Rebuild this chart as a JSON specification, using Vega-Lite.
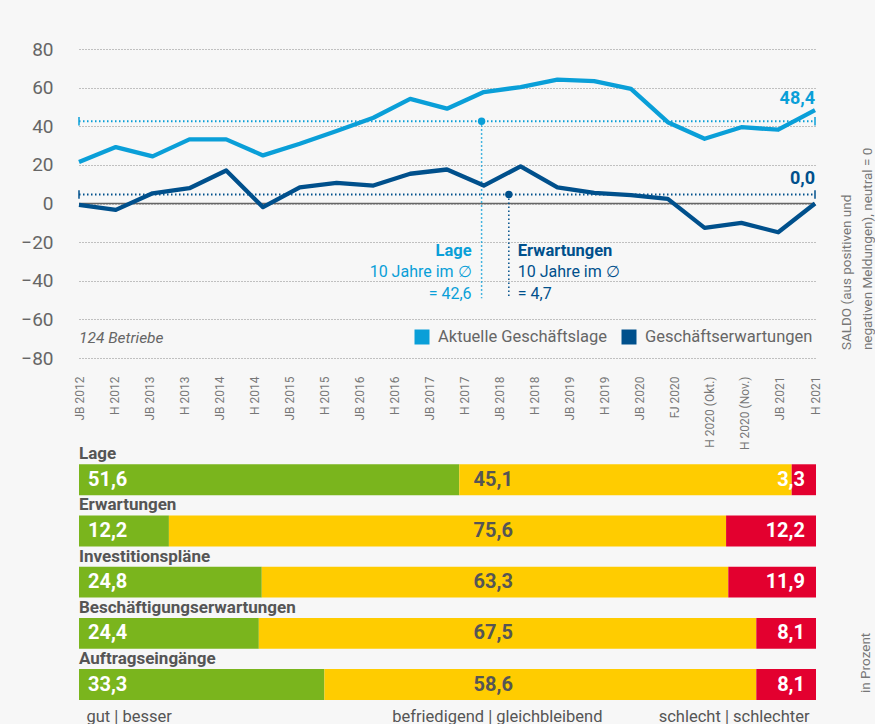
{
  "$schema": "https://vega.github.io/schema/vega-lite/v6.json",
  "background": "#f7f7f7",
  "padding": {"left": 20, "top": 40, "right": 0, "bottom": 0},
  "config": {
    "view": {"stroke": null},
    "font": "Roboto",
    "axis": {"labelOverlap": false, "labelLimit": 400},
    "locale": {"number": {"decimal": ",", "thousands": ".", "grouping": [3], "currency": ["", " €"]}}
  },
  "bounds": "flush",
  "spacing": 86,
  "resolve": {"scale": {"color": "independent", "x": "independent", "y": "independent"}, "legend": {"color": "independent"}},
  "datasets": {
    "lines": [
      {"i": 0, "series": "Aktuelle Geschäftslage", "value": 21.5},
      {"i": 1, "series": "Aktuelle Geschäftslage", "value": 29.2},
      {"i": 2, "series": "Aktuelle Geschäftslage", "value": 24.4},
      {"i": 3, "series": "Aktuelle Geschäftslage", "value": 33.2},
      {"i": 4, "series": "Aktuelle Geschäftslage", "value": 33.2},
      {"i": 5, "series": "Aktuelle Geschäftslage", "value": 24.9},
      {"i": 6, "series": "Aktuelle Geschäftslage", "value": 30.9},
      {"i": 7, "series": "Aktuelle Geschäftslage", "value": 37.5},
      {"i": 8, "series": "Aktuelle Geschäftslage", "value": 44.4},
      {"i": 9, "series": "Aktuelle Geschäftslage", "value": 54.2},
      {"i": 10, "series": "Aktuelle Geschäftslage", "value": 49.1},
      {"i": 11, "series": "Aktuelle Geschäftslage", "value": 57.7},
      {"i": 12, "series": "Aktuelle Geschäftslage", "value": 60.3},
      {"i": 13, "series": "Aktuelle Geschäftslage", "value": 64.1},
      {"i": 14, "series": "Aktuelle Geschäftslage", "value": 63.4},
      {"i": 15, "series": "Aktuelle Geschäftslage", "value": 59.4},
      {"i": 16, "series": "Aktuelle Geschäftslage", "value": 42.1},
      {"i": 17, "series": "Aktuelle Geschäftslage", "value": 33.5},
      {"i": 18, "series": "Aktuelle Geschäftslage", "value": 39.5},
      {"i": 19, "series": "Aktuelle Geschäftslage", "value": 38.2},
      {"i": 20, "series": "Aktuelle Geschäftslage", "value": 48.4},
      {"i": 0, "series": "Geschäftserwartungen", "value": -0.7},
      {"i": 1, "series": "Geschäftserwartungen", "value": -3.3},
      {"i": 2, "series": "Geschäftserwartungen", "value": 5.3},
      {"i": 3, "series": "Geschäftserwartungen", "value": 7.9},
      {"i": 4, "series": "Geschäftserwartungen", "value": 17.1},
      {"i": 5, "series": "Geschäftserwartungen", "value": -1.9},
      {"i": 6, "series": "Geschäftserwartungen", "value": 8.4},
      {"i": 7, "series": "Geschäftserwartungen", "value": 10.7},
      {"i": 8, "series": "Geschäftserwartungen", "value": 9.3},
      {"i": 9, "series": "Geschäftserwartungen", "value": 15.4},
      {"i": 10, "series": "Geschäftserwartungen", "value": 17.6},
      {"i": 11, "series": "Geschäftserwartungen", "value": 9.3},
      {"i": 12, "series": "Geschäftserwartungen", "value": 19.2},
      {"i": 13, "series": "Geschäftserwartungen", "value": 8.4},
      {"i": 14, "series": "Geschäftserwartungen", "value": 5.5},
      {"i": 15, "series": "Geschäftserwartungen", "value": 4.3},
      {"i": 16, "series": "Geschäftserwartungen", "value": 2.4},
      {"i": 17, "series": "Geschäftserwartungen", "value": -12.6},
      {"i": 18, "series": "Geschäftserwartungen", "value": -10.0},
      {"i": 19, "series": "Geschäftserwartungen", "value": -14.9},
      {"i": 20, "series": "Geschäftserwartungen", "value": 0.0}
    ],
    "bars": [
      {"cat": "Lage", "rating": "gut", "k": 1, "value": 51.6},
      {"cat": "Lage", "rating": "befriedigend", "k": 2, "value": 45.1},
      {"cat": "Lage", "rating": "schlecht", "k": 3, "value": 3.3},
      {"cat": "Erwartungen", "rating": "gut", "k": 1, "value": 12.2},
      {"cat": "Erwartungen", "rating": "befriedigend", "k": 2, "value": 75.6},
      {"cat": "Erwartungen", "rating": "schlecht", "k": 3, "value": 12.2},
      {"cat": "Investitionspläne", "rating": "gut", "k": 1, "value": 24.8},
      {"cat": "Investitionspläne", "rating": "befriedigend", "k": 2, "value": 63.3},
      {"cat": "Investitionspläne", "rating": "schlecht", "k": 3, "value": 11.9},
      {"cat": "Beschäftigungserwartungen", "rating": "gut", "k": 1, "value": 24.4},
      {"cat": "Beschäftigungserwartungen", "rating": "befriedigend", "k": 2, "value": 67.5},
      {"cat": "Beschäftigungserwartungen", "rating": "schlecht", "k": 3, "value": 8.1},
      {"cat": "Auftragseingänge", "rating": "gut", "k": 1, "value": 33.3},
      {"cat": "Auftragseingänge", "rating": "befriedigend", "k": 2, "value": 58.6},
      {"cat": "Auftragseingänge", "rating": "schlecht", "k": 3, "value": 8.1}
    ]
  },
  "vconcat": [
    {
      "width": 736,
      "height": 309,
      "layer": [
        {
          "data": {"values": [{}]},
          "mark": {"type": "rule", "color": "#666", "strokeWidth": 1.3},
          "encoding": {"y": {"datum": 0, "type": "quantitative"}}
        },
        {
          "data": {"values": [{}]},
          "mark": {"type": "rule", "color": "#0a9fd8", "strokeWidth": 2, "strokeDash": [1.5, 2.5]},
          "encoding": {"x": {"datum": 0}, "x2": {"datum": 20}, "y": {"datum": 42.6}}
        },
        {
          "data": {"values": [{}]},
          "mark": {"type": "rule", "color": "#00508c", "strokeWidth": 2, "strokeDash": [1.5, 2.5]},
          "encoding": {"x": {"datum": 0}, "x2": {"datum": 20}, "y": {"datum": 4.7}}
        },
        {
          "data": {"values": [{}]},
          "mark": {"type": "rule", "color": "#0a9fd8", "strokeWidth": 1.5},
          "encoding": {"x": {"datum": 0}, "y": {"datum": 40.4}, "y2": {"datum": 44.8}}
        },
        {
          "data": {"values": [{}]},
          "mark": {"type": "rule", "color": "#0a9fd8", "strokeWidth": 1.5},
          "encoding": {"x": {"datum": 20}, "y": {"datum": 40.4}, "y2": {"datum": 44.8}}
        },
        {
          "data": {"values": [{}]},
          "mark": {"type": "rule", "color": "#00508c", "strokeWidth": 1.5},
          "encoding": {"x": {"datum": 0}, "y": {"datum": 2.5}, "y2": {"datum": 6.9}}
        },
        {
          "data": {"values": [{}]},
          "mark": {"type": "rule", "color": "#00508c", "strokeWidth": 1.5},
          "encoding": {"x": {"datum": 20}, "y": {"datum": 2.5}, "y2": {"datum": 6.9}}
        },
        {
          "data": {"values": [{}]},
          "mark": {"type": "rule", "color": "#0a9fd8", "strokeWidth": 1.5, "strokeDash": [1.5, 2.5]},
          "encoding": {"x": {"datum": 10.94}, "y": {"datum": 42.6}, "y2": {"datum": -49}}
        },
        {
          "data": {"values": [{}]},
          "mark": {"type": "rule", "color": "#00508c", "strokeWidth": 1.5, "strokeDash": [1.5, 2.5]},
          "encoding": {"x": {"datum": 11.68}, "y": {"datum": 4.7}, "y2": {"datum": -49}}
        },
        {
          "data": {"values": [{}]},
          "mark": {"type": "point", "filled": true, "color": "#0a9fd8", "size": 55, "opacity": 1},
          "encoding": {"x": {"datum": 10.94}, "y": {"datum": 42.6}}
        },
        {
          "data": {"values": [{}]},
          "mark": {"type": "point", "filled": true, "color": "#00508c", "size": 55, "opacity": 1},
          "encoding": {"x": {"datum": 11.68}, "y": {"datum": 4.7}}
        },
        {
          "data": {"values": [{}]},
          "mark": {"type": "text", "align": "right", "baseline": "middle", "dx": -10, "fontSize": 16.5, "fontWeight": "bold", "color": "#0a9fd8", "text": "Lage"},
          "encoding": {"x": {"datum": 10.94}, "y": {"datum": -24.6}}
        },
        {
          "data": {"values": [{}]},
          "mark": {"type": "text", "align": "right", "baseline": "middle", "dx": -10, "fontSize": 16, "lineHeight": 22, "color": "#0a9fd8", "text": ["10 Jahre im ∅", "= 42,6"]},
          "encoding": {"x": {"datum": 10.94}, "y": {"datum": -35.5}}
        },
        {
          "data": {"values": [{}]},
          "mark": {"type": "text", "align": "left", "baseline": "middle", "dx": 9, "fontSize": 16.5, "fontWeight": "bold", "color": "#00508c", "text": "Erwartungen"},
          "encoding": {"x": {"datum": 11.68}, "y": {"datum": -24.6}}
        },
        {
          "data": {"values": [{}]},
          "mark": {"type": "text", "align": "left", "baseline": "middle", "dx": 9, "fontSize": 16, "lineHeight": 22, "color": "#00508c", "text": ["10 Jahre im ∅", "= 4,7"]},
          "encoding": {"x": {"datum": 11.68}, "y": {"datum": -35.5}}
        },
        {
          "data": {"values": [{}]},
          "mark": {"type": "text", "align": "right", "baseline": "middle", "fontSize": 18, "fontWeight": "bold", "color": "#0a9fd8", "text": "48,4"},
          "encoding": {"x": {"datum": 20}, "y": {"datum": 54.1}}
        },
        {
          "data": {"values": [{}]},
          "mark": {"type": "text", "align": "right", "baseline": "middle", "fontSize": 18, "fontWeight": "bold", "color": "#00508c", "text": "0,0"},
          "encoding": {"x": {"datum": 20}, "y": {"datum": 12.7}}
        },
        {
          "data": {"values": [{}]},
          "mark": {"type": "text", "align": "left", "baseline": "middle", "fontSize": 15.5, "fontStyle": "italic", "color": "#666", "text": "124 Betriebe"},
          "encoding": {"x": {"datum": 0}, "y": {"datum": -69.7}}
        },
        {
          "data": {"values": [{}]},
          "mark": {"type": "text", "align": "left", "baseline": "top", "angle": 270, "fontSize": 13.5, "lineHeight": 21, "color": "#777", "text": ["SALDO (aus positiven und", "negativen Meldungen), neutral = 0"]},
          "encoding": {"x": {"datum": 20.68}, "y": {"datum": -75.9}}
        },
        {
          "data": {"name": "lines"},
          "mark": {"type": "line", "strokeWidth": 4.3, "strokeJoin": "round"},
          "encoding": {
            "x": {
              "field": "i", "type": "quantitative",
              "scale": {"domain": [0, 20], "nice": false, "zero": false},
              "axis": {
                "values": [0, 0.9524, 1.9048, 2.8571, 3.8095, 4.7619, 5.7143, 6.6667, 7.619, 8.5714, 9.5238, 10.4762, 11.4286, 12.381, 13.3333, 14.2857, 15.2381, 16.1905, 17.1429, 18.0952, 19.0476, 20],
                "tickCount": 50,
                "labelExpr": "['JB 2012','H 2012','JB 2013','H 2013','JB 2014','H 2014','JB 2015','H 2015','JB 2016','H 2016','JB 2017','H 2017','JB 2018','H 2018','JB 2019','H 2019','JB 2020','FJ 2020','H 2020 (Okt.)','H 2020 (Nov.)','JB 2021','H 2021'][round(datum.value * 21 / 20)]",
                "title": null, "labelAngle": 270, "labelAlign": "right", "labelBaseline": "middle",
                "labelPadding": 18, "labelFontSize": 12, "labelColor": "#777", "ticks": false,
                "domain": false, "grid": false, "labelOverlap": false, "labelFlush": false, "labelBound": false
              }
            },
            "y": {
              "field": "value", "type": "quantitative",
              "scale": {"domain": [-80, 80], "nice": false, "zero": false},
              "axis": {
                "values": [-80, -60, -40, -20, 0, 20, 40, 60, 80], "tickCount": 50, "title": null, "domain": false, "ticks": false,
                "labelFontSize": 19, "labelColor": "#666", "labelPadding": 26, "labelOverlap": false,
                "grid": true, "gridColor": "#888", "gridDash": [1, 2], "gridWidth": 1
              }
            },
            "color": {
              "field": "series", "type": "nominal",
              "scale": {"domain": ["Aktuelle Geschäftslage", "Geschäftserwartungen"], "range": ["#0a9fd8", "#00508c"]},
              "legend": {
                "orient": "none", "legendX": 328, "legendY": 273, "direction": "horizontal", "title": null,
                "symbolType": "stroke", "symbolSize": 225, "symbolStrokeWidth": 15, "labelLimit": 300,
                "labelFontSize": 16.5, "labelColor": "#666", "labelOffset": 1, "columnPadding": -17, "padding": 0
              }
            }
          }
        }
      ]
    },
    {
      "width": 737,
      "height": 256,
      "data": {"name": "bars"},
      "layer": [
        {
          "mark": {"type": "bar"},
          "encoding": {
            "y": {"field": "cat", "type": "nominal", "sort": null, "scale": {"paddingInner": 0.396, "paddingOuter": 0.198, "align": 1}, "axis": null},
            "x": {
              "field": "value", "type": "quantitative", "stack": "zero",
              "scale": {"domain": [0, 100], "nice": false},
              "axis": {
                "values": [0, 56.7, 100],
                "labelExpr": "datum.value == 0 ? 'gut | besser' : datum.value == 100 ? 'schlecht | schlechter' : 'befriedigend | gleichbleibend'",
                "labelFlush": true, "labelFlushOffset": -7, "title": null, "domain": false, "ticks": false, "grid": false,
                "labelFontSize": 16.5, "labelColor": "#555", "labelPadding": 8, "labelLimit": 400
              }
            },
            "color": {
              "field": "rating", "type": "nominal",
              "scale": {"domain": ["gut", "befriedigend", "schlecht"], "range": ["#7ab51d", "#ffcc00", "#e3002f"]},
              "legend": null
            },
            "order": {"field": "k", "type": "quantitative"}
          }
        },
        {
          "transform": [{"filter": "datum.k == 1"}],
          "mark": {"type": "text", "align": "left", "baseline": "alphabetic", "yOffset": -5, "fontSize": 17, "fontWeight": "bold", "color": "#555"},
          "encoding": {
            "y": {"field": "cat", "type": "nominal", "sort": null, "bandPosition": 0},
            "x": {"datum": 0},
            "text": {"field": "cat"}
          }
        },
        {
          "transform": [{"filter": "datum.k == 1"}],
          "mark": {"type": "text", "align": "left", "baseline": "middle", "dx": 9, "fontSize": 20, "fontWeight": "bold", "color": "#ffffff"},
          "encoding": {
            "y": {"field": "cat", "type": "nominal", "sort": null},
            "x": {"datum": 0},
            "text": {"field": "value", "type": "quantitative", "format": ".1f"}
          }
        },
        {
          "transform": [{"filter": "datum.k == 2"}],
          "mark": {"type": "text", "align": "center", "baseline": "middle", "fontSize": 20, "fontWeight": "bold", "color": "#555"},
          "encoding": {
            "y": {"field": "cat", "type": "nominal", "sort": null},
            "x": {"datum": 56.2},
            "text": {"field": "value", "type": "quantitative", "format": ".1f"}
          }
        },
        {
          "transform": [{"filter": "datum.k == 3"}],
          "mark": {"type": "text", "align": "right", "baseline": "middle", "dx": -11, "fontSize": 20, "fontWeight": "bold", "color": "#ffffff"},
          "encoding": {
            "y": {"field": "cat", "type": "nominal", "sort": null},
            "x": {"datum": 100},
            "text": {"field": "value", "type": "quantitative", "format": ".1f"}
          }
        },
        {
          "transform": [{"filter": "datum.k == 3 && datum.cat == 'Auftragseingänge'"}],
          "mark": {"type": "text", "align": "left", "baseline": "top", "angle": 270, "yOffset": -7, "fontSize": 13.5, "color": "#777", "text": "in Prozent"},
          "encoding": {
            "y": {"field": "cat", "type": "nominal", "sort": null, "bandPosition": 1},
            "x": {"datum": 105.8}
          }
        }
      ]
    }
  ]
}
